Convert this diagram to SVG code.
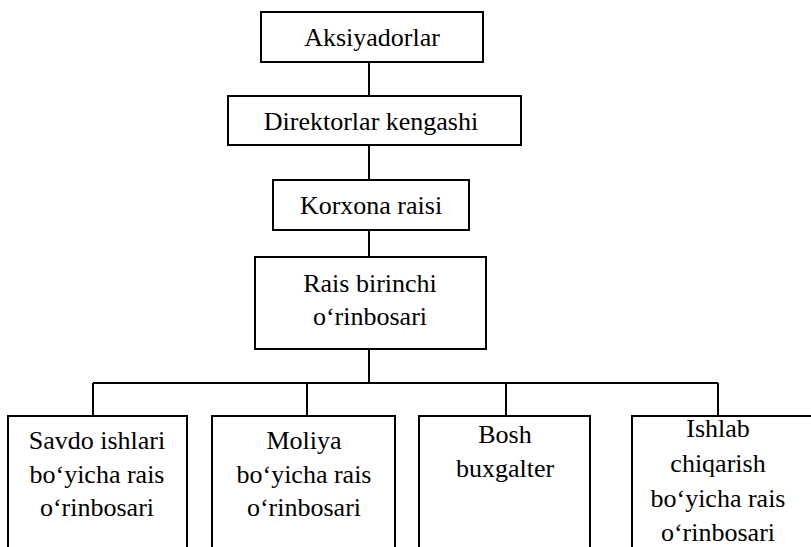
<svg xmlns="http://www.w3.org/2000/svg" width="811" height="547" viewBox="0 0 811 547">
<style>
.box{fill:#fff;stroke:#000;stroke-width:2}
.ln{fill:none;stroke:#000;stroke-width:2}
text{font-family:"Liberation Serif","Times New Roman",serif;font-size:26px;fill:#000;text-anchor:middle}
</style>
<rect width="811" height="547" fill="#fff"/>
<g id="connectors">
<path class="ln" d="M369 62V96M369 145V180M369 230V257M369 349V383M93 383H718M93 383V416M307 383V416M506 383V416M718 383V416"/>
</g>
<g id="aksiyadorlar"><rect class="box" x="261" y="12" width="222" height="50"/><text x="372" y="46">Aksiyadorlar</text></g>
<g id="direktorlar"><rect class="box" x="228" y="96" width="293" height="49"/><text x="371" y="130">Direktorlar kengashi</text></g>
<g id="korxona"><rect class="box" x="273" y="180" width="196" height="50"/><text x="371" y="214">Korxona raisi</text></g>
<g id="rais1"><rect class="box" x="255" y="257" width="231" height="92"/><text x="370" y="292">Rais birinchi</text><text x="370" y="325">o‘rinbosari</text></g>
<g id="savdo"><rect class="box" x="8" y="416" width="179" height="150"/><text x="97" y="449">Savdo ishlari</text><text x="97" y="483">bo‘yicha rais</text><text x="97" y="516">o‘rinbosari</text></g>
<g id="moliya"><rect class="box" x="212" y="416" width="183" height="150"/><text x="304" y="449">Moliya</text><text x="304" y="483">bo‘yicha rais</text><text x="304" y="516">o‘rinbosari</text></g>
<g id="bosh"><rect class="box" x="419" y="416" width="171" height="150"/><text x="505" y="443">Bosh</text><text x="505" y="477">buxgalter</text></g>
<g id="ishlab"><rect class="box" x="632" y="416" width="190" height="150"/><text x="718" y="437">Ishlab</text><text x="718" y="472">chiqarish</text><text x="718" y="507">bo‘yicha rais</text><text x="718" y="541">o‘rinbosari</text></g>
</svg>
